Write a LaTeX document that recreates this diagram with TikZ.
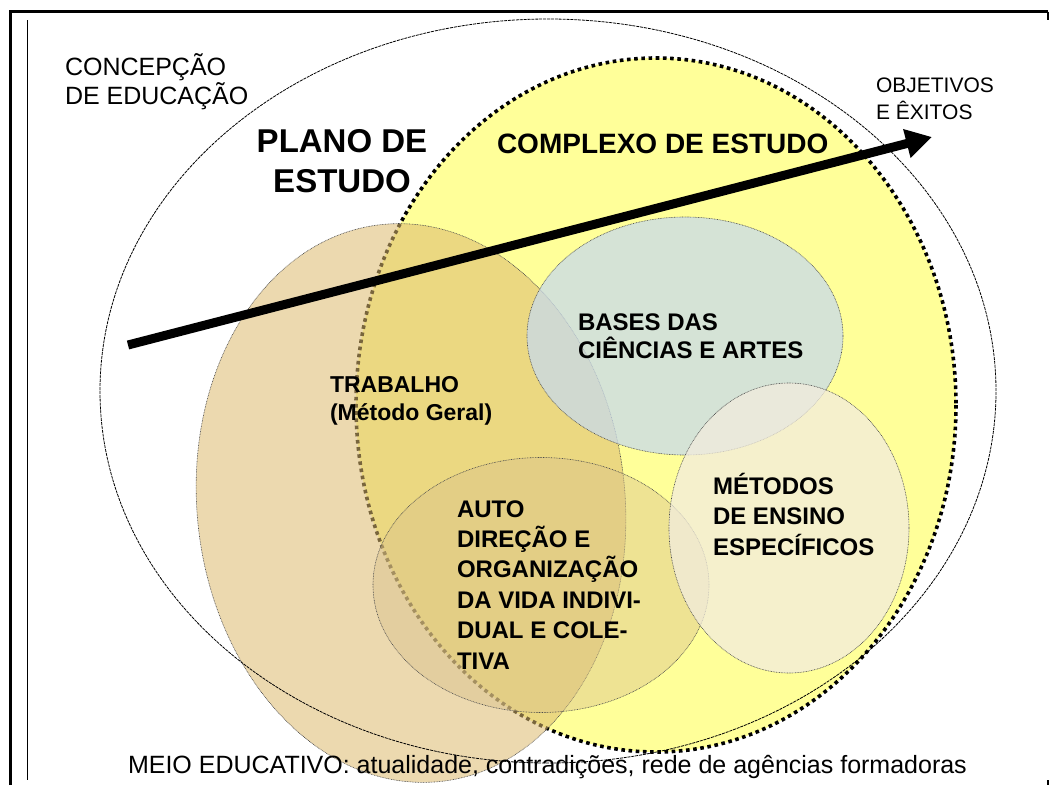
\documentclass[tikz,border=0pt]{standalone}
\usepackage{fontspec}
\setmainfont{Liberation Sans}
\usetikzlibrary{shapes.geometric,arrows.meta}
\definecolor{cyellow}{RGB}{255,255,153}
\definecolor{ctan}{RGB}{220,185,110}
\definecolor{cblue}{RGB}{200,218,235}
\definecolor{ccream}{RGB}{242,236,222}
\definecolor{cauto}{RGB}{218,195,140}
\tikzset{
  ell/.style={ellipse, inner sep=0pt, outer sep=0pt},
  outerline/.style={draw=black, line width=0.8pt, dash pattern=on 3pt off 0.9pt},
  bigdots/.style={draw=black, line width=3.6pt, dash pattern=on 3.6pt off 3.6pt},
  subline/.style={draw=black!70, line width=0.6pt, dash pattern=on 0.8pt off 0.8pt},
  frameline/.style={draw=black, line width=3pt},
  txt/.style={inner sep=0pt, outer sep=0pt, align=left, anchor=base west},
  big/.style={font=\bfseries\fontsize{24}{30.4}\selectfont},
}
\begin{document}
\begin{tikzpicture}[x=1pt,y=-1pt]
\useasboundingbox (0,0) rectangle (1049,785);
% frame
\coordinate (f1) at (10.5,785);
\coordinate (f2) at (10.5,11.5);
\coordinate (f3) at (1047.5,11.5);
\coordinate (f4) at (1047.5,20);
\coordinate (f5) at (1047.5,780);
\coordinate (f6) at (1047.5,785);
\coordinate (g1) at (27.5,20);
\coordinate (g2) at (27.5,780);
\draw[frameline] (f1) -- (f2) -- (f3);
\draw[line width=2pt] (f3) -- (f4);
\draw[line width=2pt] (f5) -- (f6);
\draw[line width=1pt] (g1) -- (g2);
% ellipses
\node[ell, fill=cyellow, minimum width=600pt, minimum height=694pt] (complexo) at (656,405) {};
\draw[bigdots] (complexo.center) ellipse [x radius=300, y radius=347];
\node[ell, fill=ctan, fill opacity=0.55, subline, draw opacity=1, rotate=6, minimum width=428pt, minimum height=560pt] (plano) at (411,503) {};
\node[ell, fill=cauto, fill opacity=0.45, subline, minimum width=336pt, minimum height=255pt] (auto) at (541,585) {};
\node[ell, fill=cblue, fill opacity=0.75, subline, minimum width=316pt, minimum height=238pt] (bases) at (685,336) {};
\node[ell, fill=ccream, fill opacity=0.75, subline, minimum width=240pt, minimum height=290pt] (metodos) at (789,528) {};
\node[ell, outerline, minimum width=896pt, minimum height=744pt] (concepcao) at (548,391) {};
% arrow
\coordinate (a0) at (128,345);
\coordinate (a1) at (932,137);
\draw[line width=9pt, -{Triangle[length=26pt,width=28pt]}] (a0) -- (a1);
% texts (anchor = baseline of the last line)
\node[txt, font=\fontsize{25}{29}\selectfont] (tconc) at (65,104) {CONCEPÇÃO\\DE EDUCAÇÃO};
\node[inner sep=0pt, align=center, anchor=base, font=\bfseries\fontsize{33}{40}\selectfont] (tplano) at (342,192) {PLANO DE\\ESTUDO};
\node[txt, font=\bfseries\fontsize{28}{32}\selectfont] (tcomp) at (497,153) {COMPLEXO DE ESTUDO};
\node[txt, font=\fontsize{21}{27}\selectfont] (tobj) at (876,119) {OBJETIVOS\\E ÊXITOS};
\node[txt, font=\bfseries\fontsize{23}{28}\selectfont] (ttrab) at (330,420) {TRABALHO\\(Método Geral)};
\node[txt, font=\bfseries\fontsize{24}{28}\selectfont] (tbases) at (578,358) {BASES DAS\\CIÊNCIAS E ARTES};
\node[txt, big] (tauto) at (457,669) {AUTO\\DIREÇÃO E\\ORGANIZAÇÃO\\DA VIDA INDIVI-\\DUAL E COLE-\\TIVA};
\node[txt, big] (tmet) at (713,555) {MÉTODOS\\DE ENSINO\\ESPECÍFICOS};
\node[txt, font=\fontsize{25}{29}\selectfont] (tmeio) at (128,773) {MEIO EDUCATIVO: atualidade, contradições, rede de agências formadoras};
\end{tikzpicture}
\end{document}
